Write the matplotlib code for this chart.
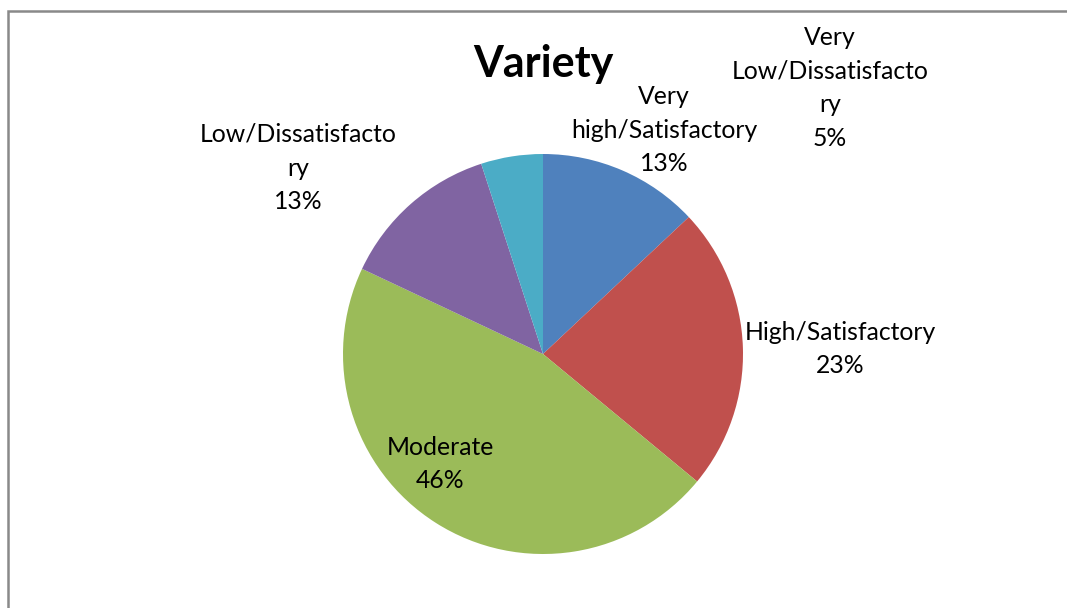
import matplotlib
matplotlib.use("Agg")
import matplotlib.pyplot as plt
from matplotlib.patches import Rectangle

W, H = 1067, 608

labels = ["Very\nhigh/Satisfactory", "High/Satisfactory", "Moderate",
          "Low/Dissatisfacto\nry", "Very\nLow/Dissatisfacto\nry"]
values = [13, 23, 46, 13, 5]
colors = ["#4F81BD", "#C0504D", "#9BBB59", "#8064A2", "#4BACC6"]

# label centre positions in pixels (x, y from top)
label_pos = [(664, 130), (840, 349), (440, 464), (298, 168), (830, 88)]

plt.rcParams["font.family"] = ["Lato", "DejaVu Sans"]

fig = plt.figure(figsize=(W / 100, H / 100), dpi=100)
ax = fig.add_axes([0, 0, 1, 1])

ax.pie(values, colors=colors, startangle=90, counterclock=False,
       center=(543, H - 354), radius=200, frame=True,
       wedgeprops=dict(linewidth=0))
ax.set_xlim(0, W)
ax.set_ylim(0, H)
ax.set_aspect("equal")
ax.axis("off")

fs = 17.8
for lab, v, (px, py) in zip(labels, values, label_pos):
    ax.text(px, H - py, f"{lab}\n{v}%", ha="center", va="center",
            fontsize=fs, linespacing=1.57, color="black")

ax.text(543, H - 64, "Variety", ha="center", va="center",
        fontsize=31, fontweight="bold")

fig.add_artist(Rectangle((8 / W, -0.1), 1.2, 1.1 - 11 / H,
                         transform=fig.transFigure, fill=False,
                         edgecolor="#898989", linewidth=1.8))

fig.savefig("out.png", dpi=100)
